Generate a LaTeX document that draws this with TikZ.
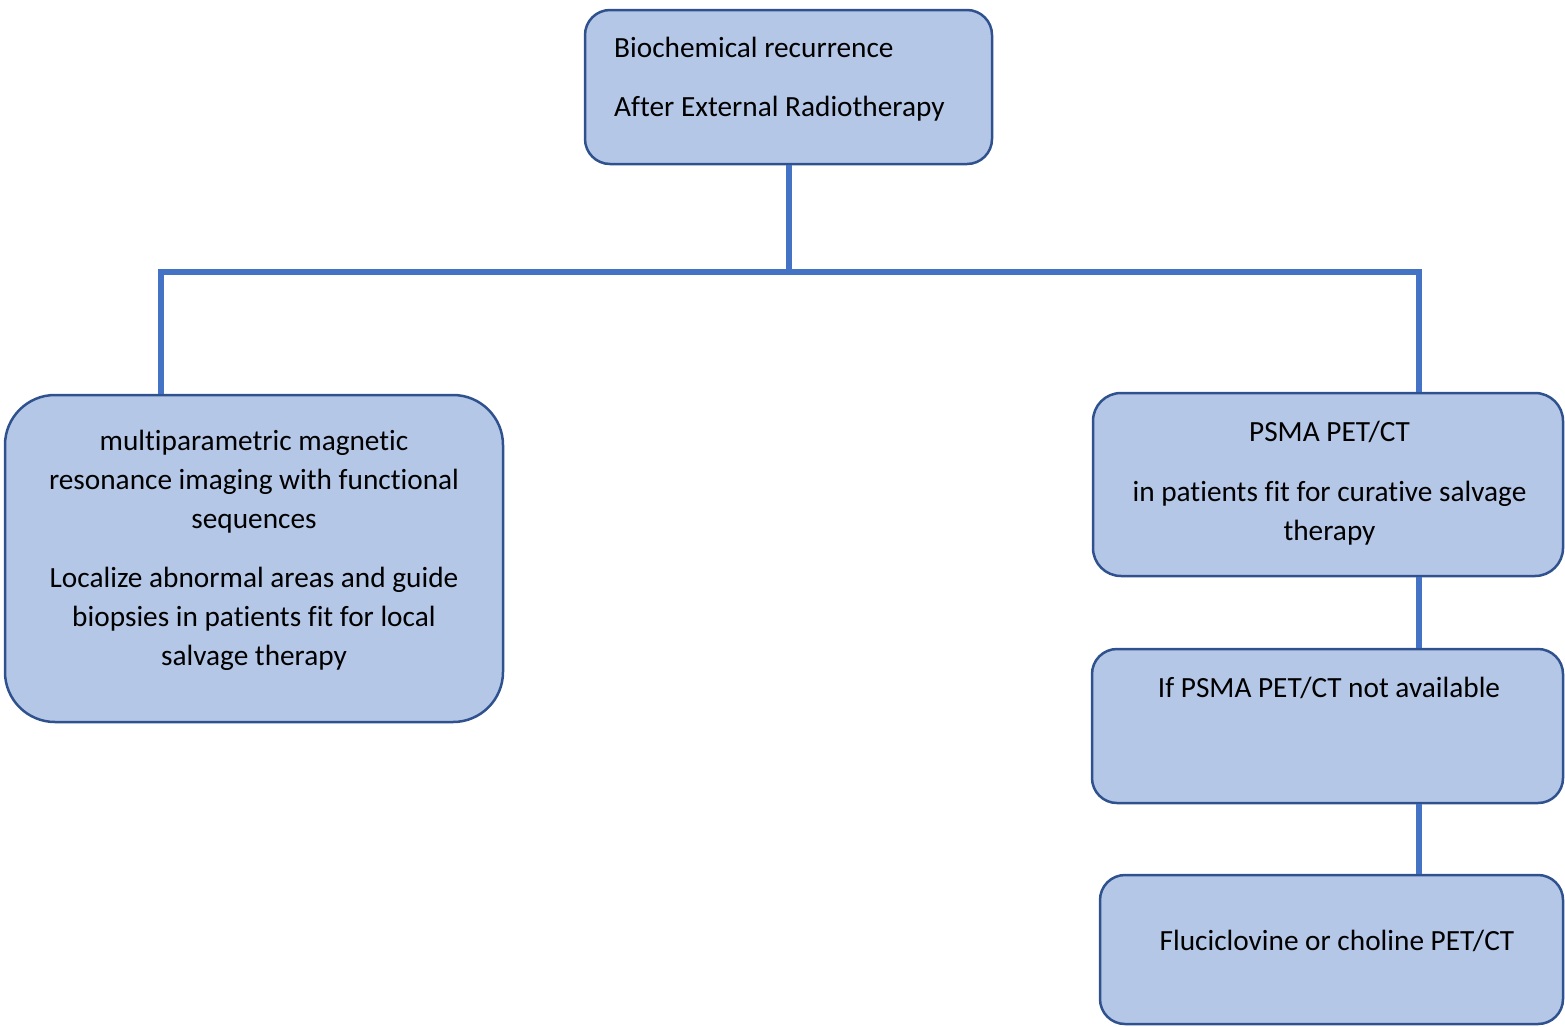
\documentclass[tikz,border=0pt]{standalone}
\usepackage{fontspec}
\setmainfont[Ligatures=NoCommon]{Carlito}
\usepackage{tikz}
\usetikzlibrary{positioning}

\definecolor{boxfill}{HTML}{B4C7E7}
\definecolor{boxline}{HTML}{2F528F}
\definecolor{linkblue}{HTML}{4472C4}

\tikzset{
    etape/.style={draw=boxline,fill=boxfill,line width=2.5pt,rounded corners=25pt,inner sep=0pt},
    texte/.style={inner sep=0pt,font=\fontsize{29.3}{39}\selectfont,align=center},
    lien/.style={draw=linkblue,line width=6pt}
}

\begin{document}
\begin{tikzpicture}[x=1pt,y=-1pt]
            \useasboundingbox (0,0) rectangle (1565,1026);
            % boites
            \node[etape,minimum width=407pt,minimum height=154pt] (bcr) at (788.5,87) {};
            \node[etape,rounded corners=50pt,minimum width=498pt,minimum height=327pt] (irm) at (254,558.5) {};
            \node[etape,rounded corners=28pt,minimum width=470pt,minimum height=183pt] (psma) at (1328,484.5) {};
            \node[etape,minimum width=471pt,minimum height=154pt] (dispo) at (1327.5,726) {};
            \node[etape,minimum width=463pt,minimum height=149pt] (fluci) at (1331.5,949.5) {};
            % textes
            \node[texte,anchor=west,align=left] (bcr-t) at (614,79.5) {Biochemical recurrence\\[20pt]After External Radiotherapy};
            \node[texte] (irm-t) at (254,550) {multiparametric magnetic\\resonance imaging with functional\\sequences\\[20pt]Localize abnormal areas and guide\\biopsies in patients fit for local\\salvage therapy};
            \node[texte] (psma-t) at (1329.5,483.5) {PSMA PET/CT\\[21pt]in patients fit for curative salvage\\therapy};
            \node[texte] (dispo-t) at (1329,688) {If PSMA PET/CT not available};
            \node[texte] (fluci-t) at (1337,941) {Fluciclovine or choline PET/CT};
            % liens
            \coordinate (jg) at (161,272);
            \coordinate (jd) at (1419,272);
            \draw[lien] (bcr.south) -- (bcr.south |- jg);
            \draw[lien] (jg |- irm.north) -- (jg) -- (jd) -- (jd |- psma.north);
            \draw[lien] (psma.south -| jd) -- (dispo.north -| jd);
            \draw[lien] (dispo.south -| jd) -- (fluci.north -| jd);
        \end{tikzpicture}
\end{document}
